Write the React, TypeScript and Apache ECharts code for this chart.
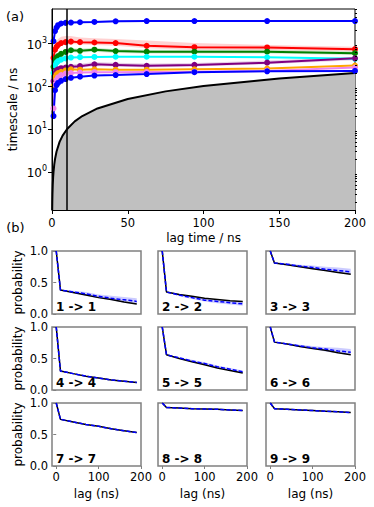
import React, { useEffect, useRef } from 'react';
import * as echarts from 'echarts';

// ---------- (a) implied timescales ----------
const TS_LAGS = [1, 2, 3, 4, 6, 9, 12.5, 18.5, 28, 42, 62.5, 94, 142, 200];
const TS_BLUE_TOP = [1100, 1900, 2300, 2600, 2850, 2950, 3000, 3050, 3100, 3200, 3250, 3250, 3250, 3250];
const TS_RED = [450, 700, 820, 900, 1000, 1050, 1080, 1050, 1030, 1000, 860, 800, 790, 720];
const TS_GREEN = [280, 400, 460, 500, 560, 620, 680, 660, 700, 650, 630, 630, 630, 580];
const TS_CYAN = [200, 300, 350, 380, 410, 440, 460, 470, 475, 480, 480, 480, 465, 430];
const TS_PURPLE = [130, 200, 230, 245, 260, 270, 280, 290, 320, 310, 295, 310, 350, 440];
const TS_ORANGE = [100, 160, 185, 200, 215, 230, 245, 240, 245, 240, 240, 245, 255, 300];
const TS_VIOLET = [30, 110, 140, 160, 180, 195, 200, 205, 210, 210, 212, 215, 225, 270];
const TS_BLUE_BOTTOM = [20, 80, 105, 118, 132, 145, 155, 165, 175, 180, 190, 210, 220, 225];

const RED_LO = [380, 600, 720, 800, 880, 920, 950, 930, 900, 870, 760, 700, 690, 640];
const RED_HI = [550, 900, 1100, 1250, 1400, 1450, 1450, 1350, 1300, 1250, 1150, 1000, 900, 820];
const GREEN_LO = [240, 350, 410, 450, 500, 560, 610, 600, 630, 590, 570, 570, 570, 530];
const GREEN_HI = [320, 460, 520, 560, 620, 690, 760, 740, 780, 720, 700, 700, 700, 640];
const PURPLE_LO = [110, 175, 205, 220, 235, 245, 255, 265, 290, 285, 270, 285, 320, 400];
const PURPLE_HI = [150, 230, 260, 280, 295, 305, 320, 330, 360, 350, 335, 345, 390, 480];
const BLUE_TOP_LO = [1000, 1750, 2150, 2450, 2700, 2800, 2850, 2900, 2950, 3050, 3100, 3100, 3100, 3100];
const BLUE_TOP_HI = [1250, 2050, 2450, 2750, 3000, 3100, 3150, 3200, 3250, 3350, 3400, 3400, 3400, 3400];

const LAG_LINE_X = [0.13, 0.2, 0.3, 0.5, 0.75, 1, 1.5, 2, 3, 5, 7, 10, 15, 20, 30, 50, 75, 100, 150, 200];
const CHOSEN_LAG = 10;
const TS_X_TICKS = [0, 50, 100, 150, 200];
const TS_Y_TICKS = [1, 10, 100, 1000];

// ---------- (b) CK test ----------
const CK_LAGS = [0, 10, 40, 70, 100, 130, 160, 190];
const CK_LABELS = ['1 -> 1', '2 -> 2', '3 -> 3', '4 -> 4', '5 -> 5', '6 -> 6', '7 -> 7', '8 -> 8', '9 -> 9'];
const CK_EST_1 = [1, 0.38, 0.34, 0.3, 0.26, 0.23, 0.19, 0.16];
const CK_PRED_1 = [1, 0.38, 0.35, 0.32, 0.28, 0.25, 0.225, 0.2];
const CK_LO_1 = [1, 0.38, 0.33, 0.29, 0.25, 0.22, 0.18, 0.15];
const CK_HI_1 = [1, 0.38, 0.37, 0.35, 0.31, 0.29, 0.27, 0.25];
const CK_EST_2 = [1, 0.35, 0.31, 0.28, 0.25, 0.23, 0.21, 0.2];
const CK_PRED_2 = [1, 0.35, 0.3, 0.26, 0.22, 0.2, 0.18, 0.16];
const CK_LO_2 = [1, 0.35, 0.28, 0.24, 0.2, 0.17, 0.15, 0.13];
const CK_HI_2 = [1, 0.35, 0.32, 0.28, 0.25, 0.23, 0.21, 0.19];
const CK_EST_3 = [1, 0.81, 0.78, 0.75, 0.72, 0.69, 0.66, 0.63];
const CK_PRED_3 = [1, 0.81, 0.79, 0.76, 0.74, 0.71, 0.69, 0.67];
const CK_LO_3 = [1, 0.81, 0.77, 0.74, 0.71, 0.68, 0.65, 0.63];
const CK_HI_3 = [1, 0.81, 0.8, 0.78, 0.77, 0.75, 0.74, 0.72];
const CK_EST_4 = [1, 0.3, 0.26, 0.22, 0.19, 0.16, 0.14, 0.12];
const CK_PRED_4 = [1, 0.3, 0.26, 0.22, 0.19, 0.16, 0.14, 0.12];
const CK_EST_5 = [1, 0.56, 0.5, 0.45, 0.4, 0.35, 0.31, 0.27];
const CK_PRED_5 = [1, 0.56, 0.51, 0.46, 0.42, 0.37, 0.33, 0.29];
const CK_LO_5 = [1, 0.56, 0.5, 0.44, 0.4, 0.35, 0.31, 0.27];
const CK_HI_5 = [1, 0.56, 0.52, 0.48, 0.44, 0.39, 0.35, 0.31];
const CK_EST_6 = [1, 0.76, 0.73, 0.69, 0.66, 0.63, 0.59, 0.56];
const CK_PRED_6 = [1, 0.76, 0.73, 0.7, 0.67, 0.65, 0.62, 0.6];
const CK_LO_6 = [1, 0.76, 0.72, 0.68, 0.65, 0.61, 0.58, 0.55];
const CK_HI_6 = [1, 0.76, 0.74, 0.72, 0.7, 0.68, 0.67, 0.65];
const CK_EST_7 = [1, 0.74, 0.7, 0.66, 0.63, 0.59, 0.56, 0.53];
const CK_PRED_7 = [1, 0.74, 0.7, 0.66, 0.63, 0.59, 0.56, 0.53];
const CK_EST_8 = [1, 0.93, 0.92, 0.91, 0.905, 0.9, 0.89, 0.88];
const CK_PRED_8 = [1, 0.93, 0.92, 0.91, 0.905, 0.9, 0.89, 0.88];
const CK_EST_9 = [1, 0.91, 0.9, 0.89, 0.88, 0.87, 0.86, 0.85];
const CK_PRED_9 = [1, 0.91, 0.9, 0.89, 0.88, 0.87, 0.86, 0.85];
const CK_X_TICKS = [0, 100, 200];
const CK_Y_TICKS = [0, 0.5, 1];

const FONT = '"DejaVu Sans", sans-serif';

function pairs(xs: number[], ys: number[]) {
  return xs.map((x, i) => [x, ys[i]]);
}

function bandSeries(xs: number[], lo: number[], hi: number[], color: string, xi: number, yi: number, opacity: number, z: number) {
  return {
    type: 'custom', xAxisIndex: xi, yAxisIndex: yi, z, silent: true,
    data: xs.map((x, i) => [x, lo[i], hi[i]]),
    encode: { x: 0, y: [1, 2] },
    renderItem: (params: any, api: any) => {
      if (params.dataIndex !== 0) return null;
      const pts: number[][] = [];
      for (let i = 0; i < xs.length; i++) pts.push(api.coord([xs[i], hi[i]]));
      for (let i = xs.length - 1; i >= 0; i--) pts.push(api.coord([xs[i], lo[i]]));
      return { type: 'polygon', shape: { points: pts }, style: { fill: color, opacity, stroke: 'none' } };
    },
  };
}

function buildOption() {
  const TS = [
    { c: '#0000ff', v: TS_BLUE_TOP, lo: BLUE_TOP_LO, hi: BLUE_TOP_HI },
    { c: '#ff0000', v: TS_RED, lo: RED_LO, hi: RED_HI },
    { c: '#008000', v: TS_GREEN, lo: GREEN_LO, hi: GREEN_HI },
    { c: '#00ffff', v: TS_CYAN },
    { c: '#800080', v: TS_PURPLE, lo: PURPLE_LO, hi: PURPLE_HI },
    { c: '#ffa500', v: TS_ORANGE },
    { c: '#ee82ee', v: TS_VIOLET },
    { c: '#0000ff', v: TS_BLUE_BOTTOM },
  ];
  const CK = [
    { e: CK_EST_1, p: CK_PRED_1, lo: CK_LO_1, hi: CK_HI_1 },
    { e: CK_EST_2, p: CK_PRED_2, lo: CK_LO_2, hi: CK_HI_2 },
    { e: CK_EST_3, p: CK_PRED_3, lo: CK_LO_3, hi: CK_HI_3 },
    { e: CK_EST_4, p: CK_PRED_4 },
    { e: CK_EST_5, p: CK_PRED_5, lo: CK_LO_5, hi: CK_HI_5 },
    { e: CK_EST_6, p: CK_PRED_6, lo: CK_LO_6, hi: CK_HI_6 },
    { e: CK_EST_7, p: CK_PRED_7 },
    { e: CK_EST_8, p: CK_PRED_8 },
    { e: CK_EST_9, p: CK_PRED_9 },
  ];

  const minorTicks: number[] = [];
  for (let d = -1; d <= 3; d++) {
    for (let m = 2; m <= 9; m++) {
      const v = m * Math.pow(10, d);
      if (v > 0.13 && v < 6200) minorTicks.push(v);
    }
  }

  const grids: any[] = [
    { left: 52, top: 9, width: 303, height: 201, show: true, borderColor: '#000', borderWidth: 1, backgroundColor: 'transparent' },
  ];
  const colLeft = [52, 158, 266];
  const rowTop = [251, 327, 403];
  const cw = 89;
  const rh = 63;
  for (let r = 0; r < 3; r++) {
    for (let c = 0; c < 3; c++) {
      grids.push({ left: colLeft[c], top: rowTop[r], width: cw, height: rh, show: true, borderColor: '#808080', borderWidth: 1.5, backgroundColor: 'transparent' });
    }
  }

  const xAxes: any[] = [
    {
      type: 'value', gridIndex: 0, min: 0, max: 200, interval: 50, z: 5,
      axisLine: { show: true, lineStyle: { color: '#000', width: 1 } },
      axisTick: { show: true, length: 4, lineStyle: { color: '#000' } },
      axisLabel: { color: '#000', fontSize: 11.5, fontFamily: FONT, margin: 7, customValues: TS_X_TICKS },
      splitLine: { show: false },
    },
  ];
  const yAxes: any[] = [
    {
      type: 'log', logBase: 10, gridIndex: 0, min: 0.13, max: 6200, z: 5,
      axisLine: { show: true, lineStyle: { color: '#000', width: 1 } },
      axisTick: { show: true, length: 4, lineStyle: { color: '#000' }, customValues: TS_Y_TICKS },
      axisLabel: {
        color: '#000', fontFamily: FONT, margin: 5, customValues: TS_Y_TICKS,
        formatter: (v: number) => `{b|10}{s|${Math.round(Math.log10(v))}}`,
        rich: {
          b: { fontSize: 12, fontFamily: FONT, color: '#000', lineHeight: 14, padding: [3, 0, 0, 0] },
          s: { fontSize: 8, fontFamily: FONT, color: '#000', lineHeight: 14, padding: [0, 0, 6, 0] },
        },
      },
      splitLine: { show: false },
      minorTick: { show: false },
    },
    {
      type: 'log', logBase: 10, gridIndex: 0, min: 0.13, max: 6200, z: 5,
      axisLine: { show: false },
      axisTick: { show: true, length: 2, lineStyle: { color: '#000' }, customValues: minorTicks },
      axisLabel: { show: false },
      splitLine: { show: false },
    },
  ];
  for (let i = 0; i < 9; i++) {
    const r = Math.floor(i / 3);
    const c = i % 3;
    xAxes.push({
      type: 'value', gridIndex: i + 1, min: -10, max: 200,
      axisLine: { show: false },
      axisTick: { show: r === 2, length: 3, lineStyle: { color: '#808080' }, customValues: CK_X_TICKS },
      axisLabel: { show: r === 2, color: '#000', fontSize: 11.5, fontFamily: FONT, margin: 5, customValues: CK_X_TICKS },
      splitLine: { show: false },
    });
    yAxes.push({
      type: 'value', gridIndex: i + 1, min: 0, max: 1,
      axisLine: { show: false },
      axisTick: { show: c === 0, length: 3, lineStyle: { color: '#808080' }, customValues: CK_Y_TICKS },
      axisLabel: {
        show: c === 0, color: '#000', fontSize: 11.5, fontFamily: FONT, margin: 4, customValues: CK_Y_TICKS,
        formatter: (v: number) => v.toFixed(1),
      },
      splitLine: { show: false },
    });
  }

  const series: any[] = [];
  // lag-time line with grey fill
  series.push({
    type: 'line', xAxisIndex: 0, yAxisIndex: 0, z: 1,
    data: pairs(LAG_LINE_X, LAG_LINE_X),
    showSymbol: false, symbol: 'none', smooth: false,
    lineStyle: { color: '#000', width: 2 },
    areaStyle: { color: '#c0c0c0', opacity: 1, origin: 'start' },
    markLine: {
      silent: true, symbol: 'none', label: { show: false },
      lineStyle: { color: '#000', width: 1.5, type: 'solid' },
      data: [{ xAxis: CHOSEN_LAG }],
    },
  });
  // bands
  TS.forEach((s: any) => {
    if (!s.lo || !s.hi) return;
    series.push(bandSeries(TS_LAGS, s.lo, s.hi, s.c, 0, 0, 0.18, 2));
  });
  TS.forEach((s) => {
    series.push({
      type: 'line', xAxisIndex: 0, yAxisIndex: 0, z: 3,
      data: pairs(TS_LAGS, s.v), symbol: 'circle', symbolSize: 6, showSymbol: true,
      lineStyle: { color: s.c, width: 2 }, itemStyle: { color: s.c, borderWidth: 0 },
    });
  });
  // CK
  CK.forEach((p: any, i) => {
    const xi = i + 1;
    const yi = i + 2;
    if (p.lo && p.hi) series.push(bandSeries(CK_LAGS, p.lo, p.hi, '#0000ff', xi, yi, 0.2, 2));
    series.push({
      type: 'line', xAxisIndex: xi, yAxisIndex: yi, z: 3,
      data: pairs(CK_LAGS, p.e), symbol: 'none', lineStyle: { color: '#000', width: 1.5 },
    });
    series.push({
      type: 'line', xAxisIndex: xi, yAxisIndex: yi, z: 4,
      data: pairs(CK_LAGS, p.p), symbol: 'none', lineStyle: { color: '#0000ff', width: 1.5, type: [4, 2] },
    });
  });

  const txt = (text: string, x: number, y: number, opts: any = {}) => ({
    type: 'text', x, y, rotation: opts.rotation || 0, z: 100,
    style: {
      text, fill: '#000', fontSize: opts.fontSize || 12, fontFamily: FONT,
      fontWeight: opts.bold ? 'bold' : 'normal',
      align: opts.align || 'center', verticalAlign: opts.verticalAlign || 'middle',
    },
  });
  const graphics: any[] = [
    txt('(a)', 15, 16, { fontSize: 13 }),
    txt('(b)', 15.5, 227, { fontSize: 13 }),
    txt('timescale / ns', 13, 109.5, { rotation: Math.PI / 2 }),
    txt('lag time / ns', 203.5, 238),
  ];
  for (let r = 0; r < 3; r++) {
    graphics.push(txt('probability', 17.5, rowTop[r] + rh / 2, { rotation: Math.PI / 2 }));
  }
  for (let c = 0; c < 3; c++) {
    graphics.push(txt('lag (ns)', colLeft[c] + cw / 2, 494));
  }
  for (let i = 0; i < 9; i++) {
    const r = Math.floor(i / 3);
    const c = i % 3;
    graphics.push(txt(CK_LABELS[i], colLeft[c] + 4, rowTop[r] + rh - 1.5, { bold: true, align: 'left', verticalAlign: 'bottom' }));
  }

  return {
    animation: false,
    backgroundColor: '#fff',
    grid: grids,
    xAxis: xAxes,
    yAxis: yAxes,
    series,
    graphic: graphics,
  };
}

export default function App() {
  const ref = useRef<HTMLDivElement>(null);
  useEffect(() => {
    if (!ref.current) return;
    const chart = echarts.init(ref.current, undefined, { renderer: 'svg' });
    chart.setOption(buildOption() as any);
    return () => chart.dispose();
  }, []);
  return <div ref={ref} style={{ position: 'absolute', left: 0, top: 0, width: 374, height: 507 }} />;
}
